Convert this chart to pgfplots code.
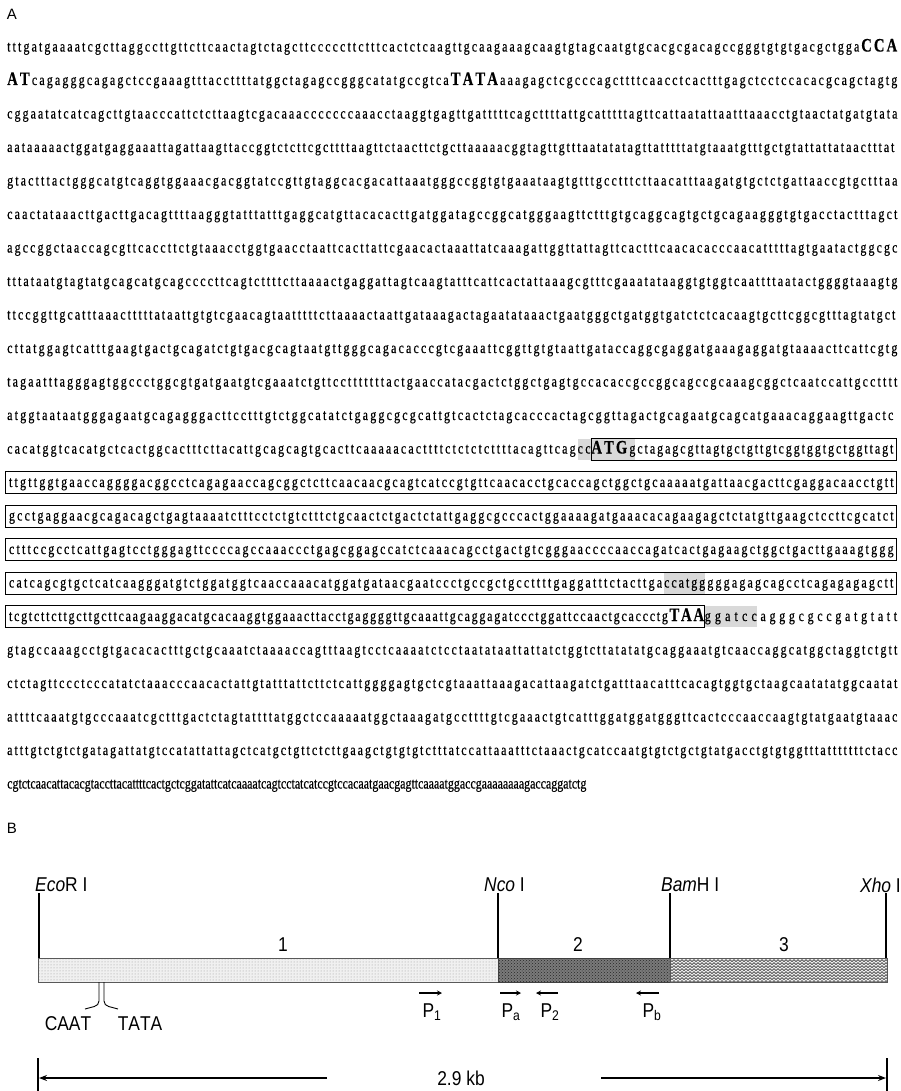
\documentclass[border=0pt]{standalone}
\usepackage{pgfplots}
\pgfplotsset{compat=1.18}
\usepackage{fontspec}
\setmainfont[FakeStretch=0.77,FakeBold=0.5]{Liberation Serif}
\newfontfamily\sans{Liberation Sans}
\newfontfamily\sansn[FakeStretch=0.87]{Liberation Sans}
\usetikzlibrary{patterns,arrows.meta}

\definecolor{hl}{gray}{0.85}
\definecolor{segA}{gray}{0.94}
\definecolor{segB}{gray}{0.48}
\definecolor{segC}{gray}{0.93}

\pgfdeclarepatternformonly{zigzag}{\pgfqpoint{-1pt}{-1pt}}{\pgfqpoint{6pt}{5pt}}{\pgfqpoint{4pt}{3pt}}{%
  \pgfsetlinewidth{0.7pt}
  \pgfpathmoveto{\pgfqpoint{0pt}{0.4pt}}
  \pgfpathlineto{\pgfqpoint{2pt}{2.4pt}}
  \pgfpathlineto{\pgfqpoint{4pt}{0.4pt}}
  \pgfusepath{stroke}}

% letters of the sequence get stretchable glue between them (justified lines)
\XeTeXinterchartokenstate=1
\newXeTeXintercharclass\dna
\XeTeXcharclass`a=\dna \XeTeXcharclass`c=\dna \XeTeXcharclass`g=\dna \XeTeXcharclass`t=\dna
\XeTeXcharclass`A=\dna \XeTeXcharclass`C=\dna \XeTeXcharclass`G=\dna \XeTeXcharclass`T=\dna
\XeTeXinterchartoks\dna\dna={\hskip0pt plus 1fil}
\newcommand{\g}{\hskip0pt plus 1fil}

\newcommand{\sst}{\rule[-6pt]{0pt}{21pt}}
\newcommand{\hlw}[2]{{\setlength{\fboxsep}{0pt}\colorbox{hl}{\hbox to #1pt{\sst#2}}}}
\newcommand{\bxw}[2]{{\setlength{\fboxsep}{0pt}\setlength{\fboxrule}{0.8pt}\fbox{\hbox to #1pt{\sst#2}}}}
\newcommand{\B}[1]{{\fontsize{19}{19}\selectfont\bfseries #1}}
\newcommand{\seq}[3]{\node[anchor=base west,inner sep=0pt] at (axis cs:#1) {\fontsize{15.5}{15.5}\selectfont\hbox to #2pt{#3}};}

\begin{document}
\begin{tikzpicture}
\begin{axis}[
    width=901pt, height=1091pt, scale only axis,
    xmin=0, xmax=901, ymin=0, ymax=1091, y dir=reverse,
    hide axis, clip=false,
]
% panel B: map segments
\addplot[draw=gray!70!black, line width=0.6pt, fill=segA, postaction={pattern=dots, pattern color=gray!80}]
    coordinates {(38,958) (498,958) (498,982) (38,982)} -- cycle;
\addplot[draw=gray!50!black, line width=0.6pt, fill=segB, postaction={pattern=crosshatch dots, pattern color=gray!30!black}]
    coordinates {(498,958) (670,958) (670,982) (498,982)} -- cycle;
\addplot[draw=gray!70!black, line width=0.6pt, fill=segC, postaction={pattern=zigzag, pattern color=gray!55!black}]
    coordinates {(670,958) (887,958) (887,982) (670,982)} -- cycle;

% panel labels
\node[font=\sans\fontsize{15}{15}\selectfont] at (axis cs:12,14) {A};
\node[font=\sans\fontsize{15}{15}\selectfont] at (axis cs:12,828) {B};

% panel A: sequence
\seq{7,51.5}{890}{tttgatgaaaatcgcttaggccttgttcttcaactagtctagcttcccccttctttcactctcaagttgcaagaaagcaagtgtagcaatgtgcacgcgacagccgggtgtgtgacgctgga\g\B{CCA}}
\seq{7,85}{890}{\B{AT}\g cagagggcagagctccgaaagtttaccttttatggctagagccgggcatatgccgtca\g\B{TATA}\g aaagagctcgcccagcttttcaacctcactttgagctcctccacacgcagctagtg}
\seq{7,118.5}{890}{cggaatatcatcagcttgtaacccattctcttaagtcgacaaacccccccaaacctaaggtgagttgatttttcagcttttattgcatttttagttcattaatattaatttaaacctgtaactatgatgtata}
\seq{7,152}{887}{aataaaaactggatgaggaaattagattaagttaccggtctcttcgcttttaagttctaacttctgcttaaaaacggtagttgtttaatatatagttatttttatgtaaatgtttgctgtattattataactttat}
\seq{7,185.5}{890}{gtactttactgggcatgtcaggtggaaacgacggtatccgttgtaggcacgacattaaatgggccggtgtgaaataagtgtttgcctttcttaacatttaagatgtgctctgattaaccgtgctttaa}
\seq{7,219}{890}{caactataaacttgacttgacagttttaagggtatttatttgaggcatgttacacacttgatggatagccggcatgggaagttctttgtgcaggcagtgctgcagaagggtgtgacctactttagct}
\seq{7,252.5}{890}{agccggctaaccagcgttcaccttctgtaaacctggtgaacctaattcacttattcgaacactaaattatcaaagattggttattagttcactttcaacacacccaacatttttagtgaatactggcgc}
\seq{7,286}{890}{tttataatgtagtatgcagcatgcagccccttcagtcttttcttaaaactgaggattagtcaagtatttcattcactattaaagcgtttcgaaatataaggtgtggtcaattttaatactggggtaaagtg}
\seq{7,319.5}{888}{ttccggttgcatttaaactttttataattgtgtcgaacagtaatttttcttaaaactaattgataaagactagaatataaactgaatgggctgatggtgatctctcacaagtgcttcggcgtttagtatgct}
\seq{7,353}{890}{cttatggagtcatttgaagtgactgcagatctgtgacgcagtaatgttgggcagacacccgtcgaaattcggttgtgtaattgataccaggcgaggatgaaagaggatgtaaaacttcattcgtg}
\seq{7,386.5}{890}{tagaatttagggagtggccctggcgtgatgaatgtcgaaatctgttcctttttttactgaaccatacgactctggctgagtgccacaccgccggcagccgcaaagcggctcaatccattgcctttt}
\seq{7,420}{886}{atggtaataatgggagaatgcagagggacttcctttgtctggcatatctgaggcgcgcattgtcactctagcacccactagcggttagactgcagaatgcagcatgaaacaggaagttgactc}
\seq{7,453.5}{890}{cacatggtcacatgctcactggcactttcttacattgcagcagtgcacttcaaaaacacttttctctctcttttacagttcag\g\hlw{13}{c\g c}\bxw{305}{\hlw{44}{\B{ATG}\g g}\g ctagagcgttagtgctgttgtcggtggtgctggttagt\hspace{3pt}}}
\seq{5,487}{892}{\bxw{890.4}{\hspace{3pt}ttgttggtgaaccaggggacggcctcagagaaccagcggctcttcaacaacgcagtcatccgtgttcaacacctgcaccagctggctgcaaaaatgattaacgacttcgaggacaacctgtt\hspace{3pt}}}
\seq{5,520.5}{892}{\bxw{890.4}{\hspace{3pt}gcctgaggaacgcagacagctgagtaaaatctttcctctgtctttctgcaactctgactctattgaggcgcccactggaaaagatgaaacacagaagagctctatgttgaagctccttcgcatct\hspace{3pt}}}
\seq{5,554}{892}{\bxw{890.4}{\hspace{3pt}ctttccgcctcattgagtcctgggagttccccagccaaaccctgagcggagccatctcaaacagcctgactgtcgggaaccccaaccagatcactgagaagctggctgacttgaaagtggg\hspace{3pt}}}
\seq{5,587.5}{892}{\bxw{890.4}{\hspace{3pt}catcagcgtgctcatcaagggatgtctggatggtcaaccaaacatggatgataacgaatccctgccgctgccttttgaggatttctacttga\g\hlw{41}{c\g c\g a\g t\g g\g g}\g gggagagcagcctcagagagagctt\hspace{3pt}}}
\seq{5,621}{892}{\bxw{698}{\hspace{3pt}tcgtcttcttgcttgcttcaagaaggacatgcacaaggtggaaacttacctgaggggttgcaaattgcaggagatccctggattccaactgcaccctg\g\B{TAA}}\hlw{52}{g\g g\g a\g t\g c\g c}\g agggcgccgatgtatt}
\seq{7,654.5}{890}{gtagccaaagcctgtgacacactttgctgcaaatctaaaaccagtttaagtcctcaaaatctcctaatataattattatctggtcttatatatgcaggaaatgtcaaccaggcatggctaggtctgtt}
\seq{7,688}{890}{ctctagttccctcccatatctaaacccaacactattgtatttattcttctcattggggagtgctcgtaaattaaagacattaagatctgatttaacatttcacagtggtgctaagcaatatatggcaatat}
\seq{7,721.5}{890}{attttcaaatgtgcccaaatcgctttgactctagtattttatggctccaaaaatggctaaagatgccttttgtcgaaactgtcatttggatggatgggttcactcccaaccaagtgtatgaatgtaaac}
\seq{7,755}{890}{atttgtctgtctgatagattatgtccatattattagctcatgctgttctcttgaagctgtgtgtctttatccattaaatttctaaactgcatccaatgtgtctgctgtatgacctgtgtggtttatttttttctacc}
\node[anchor=base west,inner sep=0pt] at (axis cs:7,788.5) {\fontsize{15.5}{15.5}\selectfont cgtctcaacattacacgtaccttacattttcactgctcggatattcatcaaaatcagtcctatcatccgtccacaatgaacgagttcaaaatggaccgaaaaaaaagaccaggatctg};

% panel B: restriction sites
\draw[line width=1.8pt] (axis cs:39,893) -- (axis cs:39,958);
\draw[line width=1.8pt] (axis cs:498,893) -- (axis cs:498,958);
\draw[line width=1.8pt] (axis cs:670,893) -- (axis cs:670,958);
\draw[line width=1.8pt] (axis cs:886,893) -- (axis cs:886,958);
\begin{scope}[every node/.style={font=\sansn\fontsize{20}{20}\selectfont, anchor=west, inner sep=0pt}]
\node at (axis cs:35,885) {\textit{Eco}R I};
\node at (axis cs:484,885) {\textit{Nco} I};
\node at (axis cs:661,885) {\textit{Bam}H I};
\node[anchor=east] at (axis cs:901,885) {\textit{Xho} I};
\end{scope}
\begin{scope}[every node/.style={font=\sansn\fontsize{20}{20}\selectfont, inner sep=0pt}]
\node at (axis cs:283,945) {1};
\node at (axis cs:578,945) {2};
\node at (axis cs:784,945) {3};
\node at (axis cs:68,1024) {CAAT};
\node at (axis cs:140,1024) {TATA};
\node at (axis cs:461,1078) {2.9 kb};
\node at (axis cs:432,1012) {P\textsubscript{1}};
\node at (axis cs:511,1012) {P\textsubscript{a}};
\node at (axis cs:550,1012) {P\textsubscript{2}};
\node at (axis cs:652,1012) {P\textsubscript{b}};
\end{scope}

% promoter elements
\draw[line width=0.9pt] (axis cs:99,982) -- (axis cs:99,1001) to[out=-90,in=20] (axis cs:85,1009);
\draw[line width=0.9pt] (axis cs:104,982) -- (axis cs:104,1001) to[out=-90,in=160] (axis cs:118,1009);

% primers
\begin{scope}[line width=1.2pt, -{Stealth[length=5pt,width=5pt]}]
\draw (axis cs:419,993) -- (axis cs:442,993);
\draw (axis cs:500,993) -- (axis cs:521,993);
\draw (axis cs:558,993) -- (axis cs:536,993);
\draw (axis cs:659,993) -- (axis cs:636,993);
\end{scope}

% length scale
\draw[line width=1.6pt] (axis cs:38,1058) -- (axis cs:38,1091);
\draw[line width=1.6pt] (axis cs:887,1058) -- (axis cs:887,1091);
\draw[line width=1.1pt, -{Stealth[length=8pt,width=6pt]}] (axis cs:327,1078) -- (axis cs:39,1078);
\draw[line width=1.1pt, -{Stealth[length=8pt,width=6pt]}] (axis cs:601,1078) -- (axis cs:886,1078);
\end{axis}
\pgfresetboundingbox
\path (current axis.south west) rectangle (current axis.north east);
\end{tikzpicture}
\end{document}
